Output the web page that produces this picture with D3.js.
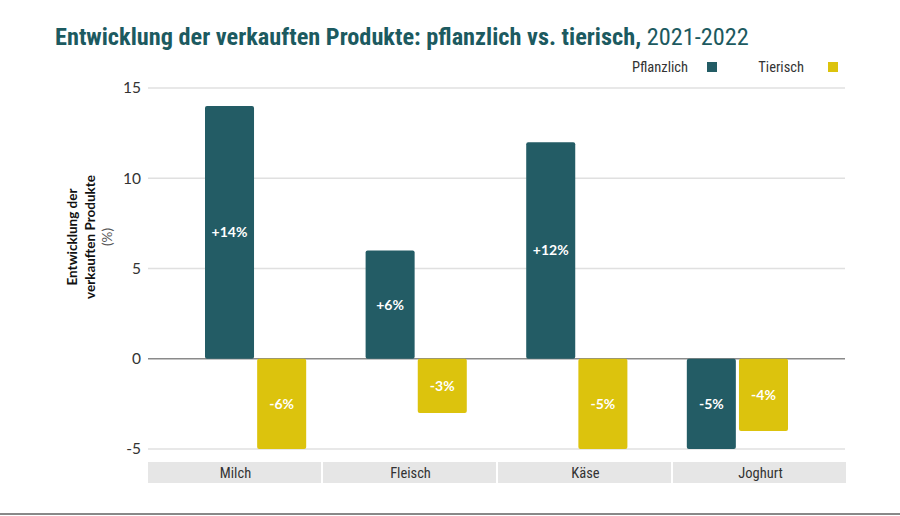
<!DOCTYPE html>
<html><head><meta charset="utf-8">
<script src="https://cdn.jsdelivr.net/npm/d3@7"></script>
<style>
body{margin:0;background:#fff;}
svg{display:block;font-family:"Liberation Sans Narrow","Roboto Condensed","Roboto",sans-serif;}
</style></head>
<body><svg id="chart" width="900" height="516"></svg>
<script>
const categories = ["Milch", "Fleisch", "Käse", "Joghurt"];
const series = ["Pflanzlich", "Tierisch"];
const pflanzlich = [14, 6, 12, -5];
const tierisch = [-6, -3, -5, -4];
const yTicks = [-5, 0, 5, 10, 15];
const colors = ["#235c65", "#dcc30d"];

const svg = d3.select("#chart");
const W = 900, H = 516;

const y = d3.scaleLinear().domain([-5, 15]).range([449, 88]).clamp(true);
const x0 = d3.scaleBand().domain(categories).range([205, 788]).paddingInner(0.37).paddingOuter(0);
const x1 = d3.scaleBand().domain(series).range([0, x0.bandwidth()]).paddingInner(0.06).paddingOuter(0);
const xCat = d3.scaleBand().domain(categories).range([148, 848]);

// title
const title = svg.append("text").attr("x", 55).attr("y", 45)
  .attr("fill", "#1c5a60").style("font-size", "24.3px");
title.append("tspan").attr("font-weight", "bold").text("Entwicklung der verkauften Produkte: pflanzlich vs. tierisch,");
title.append("tspan").text(" 2021-2022");

// legend
const legend = [{name: series[0], tx: 688, sx: 707}, {name: series[1], tx: 804, sx: 828}];
legend.forEach((l, i) => {
  svg.append("text").attr("x", l.tx).attr("y", 72).attr("text-anchor", "end")
    .attr("fill", "#333").style("font-size", "14.5px").text(l.name);
  svg.append("rect").attr("x", l.sx).attr("y", 62).attr("width", 10).attr("height", 10).attr("fill", colors[i]);
});

// gridlines + y axis
const yAxis = d3.axisLeft(y).tickValues(yTicks).tickSize(0).tickPadding(0).tickFormat(d => String(d));
const gy = svg.append("g").attr("transform", "translate(141,0)").call(yAxis);
gy.select(".domain").remove();
gy.selectAll("text").attr("fill", "#333").style("font-size", "15.5px")
  .style("font-family", "'Lato','Liberation Sans',sans-serif");

svg.append("g").selectAll("line").data(yTicks).join("line")
  .attr("x1", 148).attr("x2", 845)
  .attr("y1", d => y(d)).attr("y2", d => y(d))
  .attr("stroke", d => d === 0 ? "#8a8a8a" : "#e0e0e0")
  .attr("stroke-width", 1.5);

// y axis title
const yLines = [{t: "Entwicklung der", b: true, x: 77}, {t: "verkauften Produkte", b: true, x: 95}, {t: "(%)", b: false, x: 112}];
yLines.forEach(l => {
  svg.append("text").attr("transform", `translate(${l.x},${237}) rotate(-90)`)
    .attr("text-anchor", "middle").style("font-size", "13.5px")
    .style("font-family", "'Lato','Liberation Sans',sans-serif")
    .attr("font-weight", l.b ? "bold" : "normal")
    .attr("fill", l.b ? "#111" : "#555").text(l.t);
});

// category band
svg.append("g").selectAll("rect").data(categories).join("rect")
  .attr("x", d => xCat(d)).attr("y", 462).attr("width", xCat.bandwidth() - 2).attr("height", 21)
  .attr("fill", "#e6e6e6");
svg.append("g").selectAll("text").data(categories).join("text")
  .attr("x", d => xCat(d) + xCat.bandwidth() / 2).attr("y", 478)
  .attr("text-anchor", "middle").attr("fill", "#333").style("font-size", "14.5px").text(d => d);

// bars
const rows = categories.map((c, i) => ({cat: c, vals: [pflanzlich[i], tierisch[i]]}));
const groups = svg.append("g").selectAll("g").data(rows).join("g")
  .attr("transform", d => `translate(${x0(d.cat)},0)`);
groups.selectAll("rect").data(d => d.vals.map((v, j) => ({v, s: series[j], j}))).join("rect")
  .attr("x", d => x1(d.s)).attr("width", x1.bandwidth())
  .attr("y", d => Math.min(y(d.v), y(0)))
  .attr("height", d => Math.abs(y(d.v) - y(0)))
  .attr("rx", 2).attr("fill", d => colors[d.j]);
groups.selectAll("text").data(d => d.vals.map((v, j) => ({v, s: series[j], j}))).join("text")
  .attr("x", d => x1(d.s) + x1.bandwidth() / 2)
  .attr("y", d => (y(d.v) + y(0)) / 2 + 5)
  .attr("text-anchor", "middle").attr("fill", "#fff").attr("font-weight", "bold")
  .style("font-size", "14px").style("font-family", "'Lato','Liberation Sans',sans-serif")
  .text(d => (d.v > 0 ? "+" : "") + d.v + "%");

// bottom rule
svg.append("line").attr("x1", 0).attr("x2", W).attr("y1", 514).attr("y2", 514)
  .attr("stroke", "#888").attr("stroke-width", 2);
</script></body></html>
